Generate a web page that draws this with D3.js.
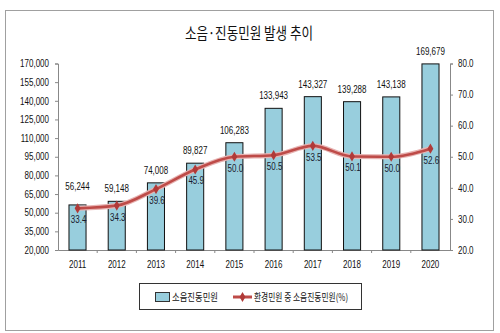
<!DOCTYPE html>
<html><head><meta charset="utf-8">
<script src="https://cdn.jsdelivr.net/npm/d3@7"></script>
<style>body{margin:0;background:#fff}svg{display:block}</style>
</head><body>
<svg id="c" width="500" height="333"></svg>
<script>
const years = ["2011","2012","2013","2014","2015","2016","2017","2018","2019","2020"];
const complaints = [56244,59148,74008,89827,106283,133943,143327,139288,143138,169679];
const shares = [33.4,34.3,39.6,45.9,50.0,50.5,53.5,50.1,50.0,52.6];
const leftTicks = [20000,35000,50000,65000,80000,95000,110000,125000,140000,155000,170000];
const rightTicks = [20,30,40,50,60,70,80];
const title = "소음·진동민원 발생 추이";
const legendLabels = ["소음진동민원","환경민원 중 소음진동민원(%)"];

const svg = d3.select("#c");
const font = "'Liberation Sans', Arial, sans-serif";
const kfont = "'Noto Sans CJK KR', sans-serif";
function condense(sel, f){
  sel.each(function(){
    const w = this.getComputedTextLength();
    d3.select(this).attr("textLength", w*f).attr("lengthAdjust","spacingAndGlyphs");
  });
}
svg.append("rect").attr("x",5.5).attr("y",10.5).attr("width",488).attr("height",320)
  .attr("fill","#fff").attr("stroke","#a0a0a0");

const L=58, R=450, T=63.5, B=250;
const x = d3.scaleBand().domain(years).range([L,R]).paddingInner(0.565).paddingOuter(0.28);
const xb = d3.scaleBand().domain(years).range([L,R]);
const yL = d3.scaleLinear().domain([20000,170000]).range([B,T]);
const yR = d3.scaleLinear().domain([20,80]).range([B,T]);

svg.append("text").attr("x",249).attr("y",39).attr("text-anchor","middle")
  .attr("font-family",kfont).attr("font-size",16).attr("textLength",128)
  .attr("lengthAdjust","spacingAndGlyphs").attr("fill","#111").text(title);

// axes
const gl = svg.append("g").attr("transform",`translate(${L},0)`)
  .call(d3.axisLeft(yL).tickValues(leftTicks).tickSize(3).tickFormat(d3.format(",")));
const gr = svg.append("g").attr("transform",`translate(${R},0)`)
  .call(d3.axisRight(yR).tickValues(rightTicks).tickSize(3).tickFormat(d3.format(".1f")));
[gl,gr].forEach(g=>{
  g.select(".domain").attr("stroke","#888");
  g.selectAll(".tick line").attr("stroke","#888");
  g.selectAll("text").attr("font-family",font).attr("font-size",10).attr("fill","#111");
});
gl.selectAll("text").attr("x",-9);
gr.selectAll("text").attr("x",8);
condense(gl.selectAll("text"),0.8);
condense(gr.selectAll("text"),0.8);

const gx = svg.append("g").attr("transform",`translate(0,${B})`)
  .call(d3.axisBottom(xb).tickSize(0).tickSizeOuter(0));
gx.select(".domain").attr("stroke","#888");
gx.selectAll("text").attr("font-family",font).attr("font-size",10).attr("fill","#111").attr("dy","1.5em");
condense(gx.selectAll("text"),0.8);
// boundary ticks
gx.selectAll(".btick").data(years.slice(1)).join("line")
  .attr("x1",d=>xb(d)).attr("x2",d=>xb(d)).attr("y1",0).attr("y2",3).attr("stroke","#888");

// bars
svg.selectAll(".bar").data(years).join("rect")
  .attr("x",d=>x(d)).attr("width",x.bandwidth())
  .attr("y",(d,i)=>yL(complaints[i])).attr("height",(d,i)=>B-yL(complaints[i]))
  .attr("fill","#98CEDD").attr("stroke","#111").attr("stroke-width",1);

const bl = svg.selectAll(".bl").data(years).join("text")
  .attr("x",d=>x(d)+x.bandwidth()/2).attr("y",(d,i)=>yL(complaints[i])-(i===0?15:9))
  .attr("text-anchor","middle").attr("font-family",font).attr("font-size",10).attr("fill","#111")
  .text((d,i)=>d3.format(",")(complaints[i]));
condense(bl,0.8);

// line
const line = d3.line().x((d,i)=>xb(years[i])+xb.bandwidth()/2).y(d=>yR(d)).curve(d3.curveMonotoneX);
svg.append("path").datum(shares).attr("d",line).attr("fill","none")
  .attr("stroke","#E7B3B2").attr("stroke-width",5).attr("stroke-linejoin","round");
svg.append("path").datum(shares).attr("d",line).attr("fill","none")
  .attr("stroke","#BE4B48").attr("stroke-width",2.6).attr("stroke-linejoin","round");
const star = d3.symbol().type(d3.symbolDiamond).size(30);
svg.selectAll(".mk").data(shares).join("path")
  .attr("transform",(d,i)=>`translate(${xb(years[i])+xb.bandwidth()/2},${yR(d)})`)
  .attr("d",star).attr("fill","#B03A38");
const ll = svg.selectAll(".ll").data(shares).join("text")
  .attr("x",(d,i)=>xb(years[i])+xb.bandwidth()/2+1).attr("y",d=>yR(d)+15)
  .attr("text-anchor","middle").attr("font-family",font).attr("font-size",10).attr("fill","#1a1a2e")
  .text(d=>d3.format(".1f")(d));
condense(ll,0.8);

// legend
const lg = svg.append("g");
lg.append("rect").attr("x",139.5).attr("y",283.5).attr("width",222).attr("height",26)
  .attr("fill","#fff").attr("stroke","#333");
lg.append("rect").attr("x",155.5).attr("y",292.5).attr("width",14).attr("height",9)
  .attr("fill","#98CEDD").attr("stroke","#333");
lg.append("text").attr("x",172).attr("y",301).attr("font-family",kfont).attr("font-size",10)
  .attr("textLength",46).attr("lengthAdjust","spacingAndGlyphs").attr("fill","#111").text(legendLabels[0]);
lg.append("line").attr("x1",233).attr("x2",252).attr("y1",297).attr("y2",297)
  .attr("stroke","#BE4B48").attr("stroke-width",3);
lg.append("path").attr("transform","translate(242.5,297)").attr("d",star).attr("fill","#B03A38");
lg.append("text").attr("x",254).attr("y",301).attr("font-family",kfont).attr("font-size",10)
  .attr("textLength",94).attr("lengthAdjust","spacingAndGlyphs").attr("fill","#111").text(legendLabels[1]);
</script>
</body></html>
